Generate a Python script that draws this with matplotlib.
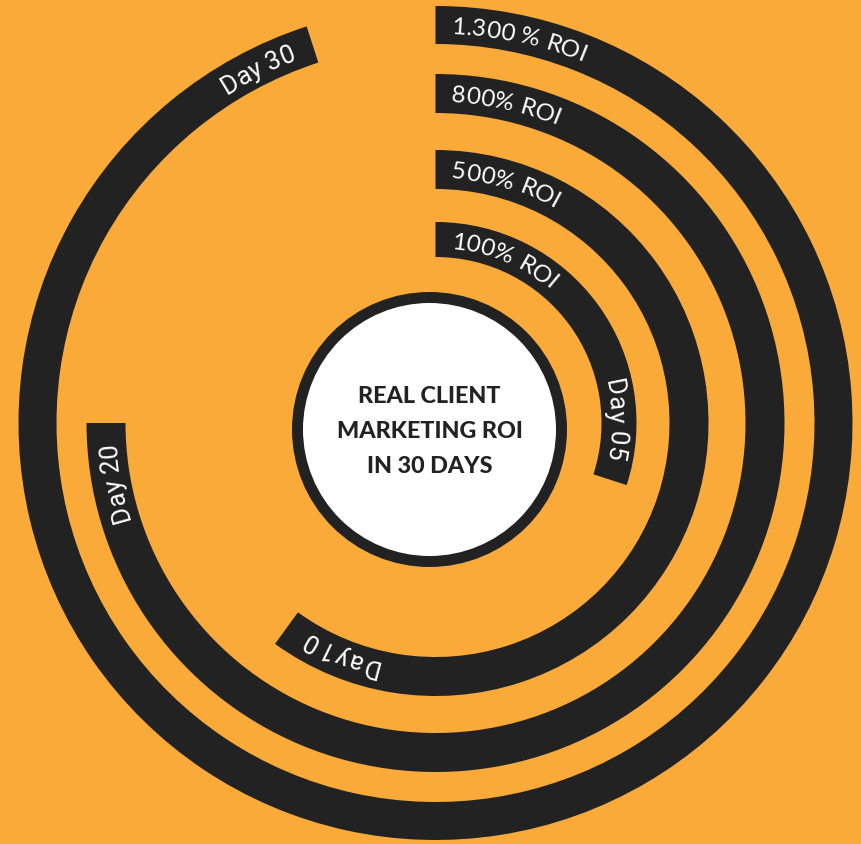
import numpy as np
import matplotlib
matplotlib.use("Agg")
import matplotlib.pyplot as plt
from matplotlib.patches import Wedge, Circle
from matplotlib import font_manager
from matplotlib.font_manager import FontProperties
from matplotlib.ft2font import FT2Font

# data
roi_labels = ["100% ROI", "500% ROI", "800% ROI", "1.300 % ROI"]
day_labels = ["Day 05", "Day 10", "Day 20", "Day 30"]
progress = [0.30, 0.60, 0.75, 0.95]   # share of a full turn, inner ring first
title_lines = ["REAL CLIENT", "MARKETING ROI", "IN 30 DAYS"]

ORANGE = "#F9AA39"
DARK = "#222222"
DPI = 100

# layout (pixels, y axis pointing up)
W, H = 861, 844
cx, cy = 435.5, 421
ring_outer = [201, 273, 349, 417]
ring_width = [35, 39, 39, 38]
disc_center = (429.5, 414.5)


def arc_text(ax, text, r_mid, angle, family, size, align="left", pad=16,
             weight="normal", color="white"):
    # lay text out letter by letter, clockwise, tops pointing outward
    prop = FontProperties(family=family, size=size, weight=weight)
    font = FT2Font(font_manager.findfont(prop))
    font.set_size(size, DPI)
    advs, mids = [], []
    for ch in text:
        g = font.load_char(ord(ch))
        advs.append(g.linearHoriAdvance / 65536)
        mids.append((g.horiBearingX + g.width / 2) / 64)  # ink centre
    cap = font.load_char(ord("H")).height / 64
    r_b = r_mid - cap / 2
    total = sum(advs)
    a = np.radians(angle)
    if align == "left":
        a0 = a + pad / r_mid
    else:
        a0 = a - pad / r_mid - total / r_b
    s = 0
    for ch, adv, mid in zip(text, advs, mids):
        if ch != " ":
            t = a0 + (s + mid) / r_b
            ax.text(cx + r_b * np.sin(t), cy + r_b * np.cos(t), ch,
                    rotation=-np.degrees(t), rotation_mode="anchor",
                    ha="center", va="baseline", fontproperties=prop,
                    color=color)
        s += adv


fig = plt.figure(figsize=(W / DPI, H / DPI), dpi=DPI, facecolor=ORANGE)
ax = fig.add_axes([0, 0, 1, 1])
ax.set_xlim(0, W)
ax.set_ylim(0, H)
ax.axis("off")

for i in range(len(progress)):
    sweep = progress[i] * 360
    ax.add_patch(Wedge((cx, cy), ring_outer[i], 90 - sweep, 90,
                       width=ring_width[i], color=DARK, lw=0))
    r_mid = ring_outer[i] - ring_width[i] / 2
    arc_text(ax, roi_labels[i], r_mid, 0, "Lato", 17.5, align="left", pad=16)
    arc_text(ax, day_labels[i], r_mid, sweep, "Roboto", 18.5, align="right", pad=20)

ax.add_patch(Circle(disc_center, 137.5, color=DARK, lw=0))
ax.add_patch(Circle(disc_center, 126.5, color="white", lw=0))

cap = 16.7
for k, line in enumerate(title_lines):
    y = disc_center[1] + 35 * (1 - k) - cap / 2
    ax.text(disc_center[0], y, line, ha="center", va="baseline",
            family="Lato", weight="black", size=16.8, color=DARK)

fig.savefig("out.png", dpi=DPI, facecolor=ORANGE)
